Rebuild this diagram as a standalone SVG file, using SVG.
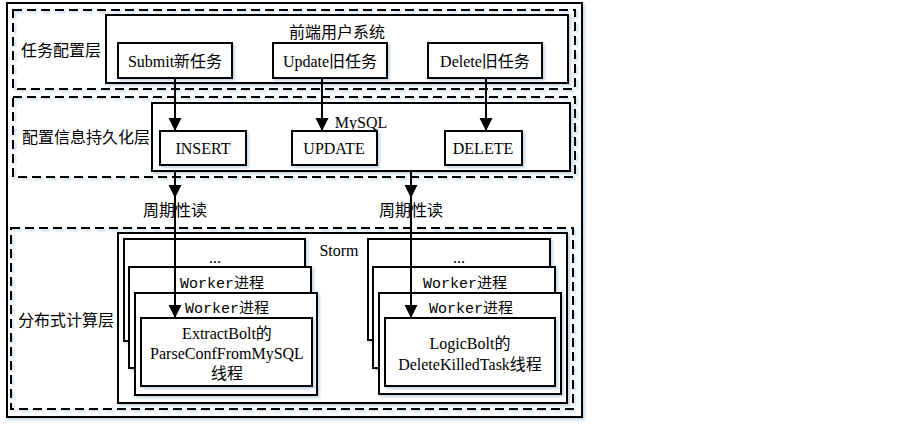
<svg xmlns="http://www.w3.org/2000/svg" width="900" height="429" viewBox="0 0 900 429">
<defs>
<style>
.t{font-family:"Liberation Serif","Noto Sans CJK SC",serif;font-size:16px;fill:#000;text-anchor:middle;dominant-baseline:central}
.m{font-family:"Liberation Mono","Noto Sans CJK SC",monospace;font-size:15px;fill:#000;text-anchor:middle;dominant-baseline:central}
.dash{fill:none;stroke:#000;stroke-width:2;stroke-dasharray:9 5}
.box{fill:#fff;stroke:#000;stroke-width:2}
.sh{filter:url(#shadow)}
.c{fill:none;stroke:#000;stroke-width:2;marker-end:url(#arr)}
</style>
<filter id="shadow" x="-5%" y="-5%" width="115%" height="115%">
<feDropShadow dx="2" dy="2" stdDeviation="1.2" flood-color="#b9cde0" flood-opacity="0.8"/>
</filter>
<marker id="arr" markerUnits="userSpaceOnUse" markerWidth="14" markerHeight="14" refX="13" refY="6.5" orient="auto">
<path d="M0,0 L13,6.5 L0,13 z" fill="#000"/>
</marker>
</defs>
<rect width="900" height="429" fill="#fff"/>

<g id="frame">
<rect x="7" y="3" width="575" height="414" fill="#fff" stroke="#000" stroke-width="2" class="sh"/>
</g>

<g id="layer-task">
<rect x="13" y="10" width="562" height="79" class="dash sh"/>
<text class="t" x="61" y="50">任务配置层</text>
</g>
<g id="layer-persist">
<rect x="13" y="97" width="562" height="80" class="dash sh"/>
<text class="t" x="86" y="137">配置信息持久化层</text>
</g>
<g id="layer-compute">
<rect x="11" y="228" width="562" height="181" class="dash sh"/>
<text class="t" x="66" y="320">分布式计算层</text>
</g>

<g id="frontend">
<rect x="106" y="15" width="462" height="68" class="box sh"/>
<text class="t" x="337" y="32">前端用户系统</text>
</g>
<g id="submit">
<rect x="118" y="43" width="114" height="35" class="box sh"/>
<text class="t" x="175" y="61">Submit新任务</text>
</g>
<g id="update">
<rect x="273" y="43" width="114" height="35" class="box sh"/>
<text class="t" x="330" y="61">Update旧任务</text>
</g>
<g id="delete">
<rect x="428" y="43" width="114" height="35" class="box sh"/>
<text class="t" x="485" y="61">Delete旧任务</text>
</g>

<g id="mysql">
<rect x="152" y="103" width="418" height="68" class="box sh"/>
<text class="t" x="361" y="122">MySQL</text>
</g>
<g id="insert">
<rect x="160" y="131" width="86" height="34" class="box sh"/>
<text class="t" x="203" y="148">INSERT</text>
</g>
<g id="update-sql">
<rect x="292" y="131" width="85" height="34" class="box sh"/>
<text class="t" x="334" y="148">UPDATE</text>
</g>
<g id="delete-sql">
<rect x="445" y="131" width="77" height="34" class="box sh"/>
<text class="t" x="483" y="148">DELETE</text>
</g>

<g id="storm">
<rect x="118" y="233" width="449" height="170" class="box sh"/>
<text class="t" x="339" y="250">Storm</text>
</g>

<g id="left-worker-more">
<rect x="124" y="239" width="181" height="102" class="box sh"/>
<text class="t" x="215" y="257">...</text>
</g>
<g id="left-worker-2">
<rect x="129" y="267" width="182" height="101" class="box sh"/>
<text class="m" x="222" y="284">Worker进程</text>
</g>
<g id="left-worker-1">
<rect x="135" y="293" width="182" height="102" class="box sh"/>
<text class="m" x="227" y="309">Worker进程</text>
</g>
<g id="extract-bolt">
<rect x="141" y="318" width="171" height="68" class="box sh"/>
<text class="t" x="227" y="333">ExtractBolt的</text>
<text class="t" x="227" y="353">ParseConfFromMySQL</text>
<text class="t" x="227" y="373">线程</text>
</g>

<g id="right-worker-more">
<rect x="368" y="239" width="182" height="101" class="box sh"/>
<text class="t" x="459" y="257">...</text>
</g>
<g id="right-worker-2">
<rect x="373" y="267" width="182" height="101" class="box sh"/>
<text class="m" x="465" y="284">Worker进程</text>
</g>
<g id="right-worker-1">
<rect x="379" y="293" width="182" height="101" class="box sh"/>
<text class="m" x="471" y="309">Worker进程</text>
</g>
<g id="logic-bolt">
<rect x="385" y="318" width="170" height="68" class="box sh"/>
<text class="t" x="470" y="343">LogicBolt的</text>
<text class="t" x="470" y="364">DeleteKilledTask线程</text>
</g>

<g id="labels">
<text class="t" x="175" y="210">周期性读</text>
<text class="t" x="411" y="210">周期性读</text>
</g>

<g id="connectors">
<path class="c" d="M175,78 V131"/>
<path class="c" d="M322,78 V131"/>
<path class="c" d="M486,78 V131"/>
<path class="c" d="M175,171 V198"/>
<path class="c" d="M175,198 V318"/>
<path class="c" d="M411,171 V198"/>
<path class="c" d="M411,198 V318"/>
</g>
</svg>
